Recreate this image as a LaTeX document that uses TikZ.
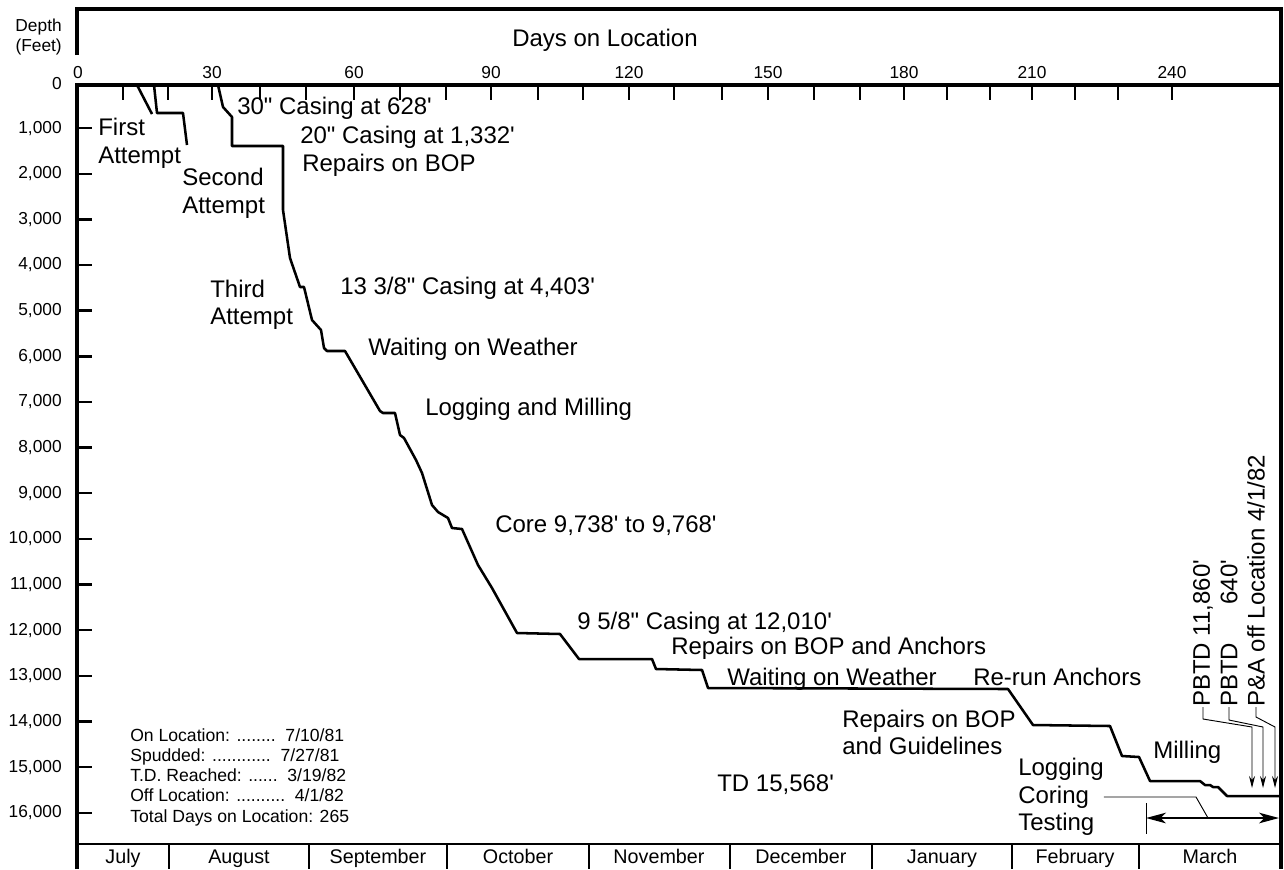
\documentclass[tikz,border=0pt]{standalone}
\usepackage{fontspec}
\setmainfont{Liberation Sans}
\usetikzlibrary{arrows.meta}
\definecolor{ink}{HTML}{000000}
\newcommand{\ftmark}{\textquotesingle}
\newcommand{\inmark}{\textquotedbl}
\tikzset{
  frameLine/.style={draw=ink, line width=3pt, line join=miter},
  tickLine/.style={draw=ink, line width=1.8pt},
  monthLine/.style={draw=ink, line width=1.4pt},
  depthCurve/.style={draw=ink, line width=1.9pt, line join=round},
  leadLine/.style={draw=ink, line width=0.7pt},
  pbtdArrow/.style={leadLine, -{Stealth[length=9pt,width=4.5pt]}},
  spanArrow/.style={draw=ink, line width=1.1pt, {Stealth[length=15pt,width=8pt,inset=4pt]}-{Stealth[length=15pt,width=8pt,inset=4pt]}},
  axisText/.style={text=ink, font=\fontsize{13}{15}\selectfont, inner sep=0pt},
  monthText/.style={text=ink, font=\fontsize{14.8}{16}\selectfont, inner sep=0pt, anchor=base},
  legendText/.style={text=ink, font=\fontsize{13.2}{15.2}\selectfont, inner sep=0pt, align=left},
  eventText/.style={text=ink, font=\fontsize{18}{20.6}\selectfont, inner sep=0pt, align=left},
  eventLine/.style={eventText, anchor=base west}
}

\begin{document}
\begin{tikzpicture}[x=0.75pt,y=-0.75pt]
  \useasboundingbox (0,0) rectangle (1284,869);

  \draw[frameLine] (77,55) -- (77,9) -- (1281,9) -- (1281,869);
  \draw[frameLine] (77,869) -- (77,85) -- (1281,85);
  \draw[monthLine] (77,844) -- (1281,844);

  \node[axisText, align=right, anchor=east] (depthTitle) at (62,37) {Depth\\(Feet)};
  \node[eventText, anchor=base] (daysTitle) at (605,46) {Days on Location};

  \foreach \tx in {123,168,212,260,306,354,400,446,491,538,583,629,674,722,768,814,860,904,947,990,1032,1075,1118,1172}
    \draw[tickLine] (\tx,86) -- (\tx,100);
  \node[axisText] (day0) at (78,73) {0};
  \foreach \tx/\d in {212/30,354/60,491/90,629/120,768/150,904/180,1032/210,1172/240}
    \node[axisText] (day\d) at (\tx,73) {\d};

  \node[axisText, anchor=east] (depth0) at (62,84) {0};
  \foreach \k in {1,...,16} {
    \draw[tickLine] (77,{82.4+45.65*\k}) -- (92,{82.4+45.65*\k});
    \node[axisText, anchor=east] (depth\k) at (62,{82.4+45.65*\k}) {\k,000};
  }

  \foreach \mx in {169,309,447,589,730,872,1012,1139}
    \draw[monthLine] (\mx,844) -- (\mx,869);
  \foreach \mx/\mn in {123/July,239/August,378/September,518/October,659/November,801/December,942/January,1075/February,1210/March}
    \node[monthText] (m\mn) at (\mx,863) {\mn};

  \draw[depthCurve] (137,85) -- (152,114);
  \draw[depthCurve] (154,85) -- (157,113) -- (183,113) -- (187,145);
  \draw[depthCurve] (218,85) -- (223,107) -- (232,117) -- (232,146) -- (283,146)
    -- (283,210) -- (290,258) -- (300,287) -- (304,287) -- (312,320) -- (321,330)
    -- (324,348) -- (327,351) -- (345,351) -- (380,411) -- (383,413) -- (395,413)
    -- (400,435) -- (404,438) -- (416,460) -- (422,473) -- (432,505) -- (438,512)
    -- (448,518) -- (452,528) -- (462,529) -- (478,565) -- (492,588) -- (517,633)
    -- (560,634) -- (579,659) -- (652,659) -- (656,669) -- (702,670) -- (708,688)
    -- (1008,689) -- (1033,725) -- (1110,726) -- (1122,756) -- (1139,757)
    -- (1150,781) -- (1200,781) -- (1205,785) -- (1210,785) -- (1213,787)
    -- (1218,787) -- (1227,796) -- (1280,796);

  \node[eventText, anchor=west] (firstTry) at (98,143.5) {First\\Attempt};
  \node[eventText, anchor=west] (secondTry) at (182,193.5) {Second\\Attempt};
  \node[eventLine] (casingThirty) at (237,114.6) {30\inmark{} Casing at 628\ftmark};
  \node[eventLine] (casingTwenty) at (300,143.6) {20\inmark{} Casing at 1,332\ftmark};
  \node[eventLine] (bopRepair) at (302,171.6) {Repairs on BOP};
  \node[eventText, anchor=west] (thirdTry) at (210,305) {Third\\Attempt};
  \node[eventLine] (casingThirteen) at (340,294) {13 3/8\inmark{} Casing at 4,403\ftmark};
  \node[eventLine] (weatherWait) at (368,355.6) {Waiting on Weather};
  \node[eventLine] (logMill) at (425,415.6) {Logging and Milling};
  \node[eventLine] (coreLabel) at (495,532.6) {Core 9,738\ftmark{} to 9,768\ftmark};
  \node[eventLine] (casingNine) at (577,629.6) {9 5/8\inmark{} Casing at 12,010\ftmark};
  \node[eventLine] (bopAnchors) at (671,654.6) {Repairs on BOP and Anchors};
  \node[eventLine] (weatherWaitB) at (727,685.6) {Waiting on Weather};
  \node[eventLine] (rerunAnchors) at (973,685.6) {Re-run Anchors};
  \node[eventText, anchor=west] (bopGuide) at (842,732.5) {Repairs on BOP\\and Guidelines};
  \node[eventLine] (tdLabel) at (717,791.6) {TD 15,568\ftmark};
  \node[eventText, anchor=west] (logCoreTest) at (1018,797) {Logging\\Coring\\Testing};
  \node[eventLine] (millLabel) at (1153,758.6) {Milling};

  \node[legendText, anchor=west] (spudNote) at (130,777) {On Location: ........~~7/10/81\\
    Spudded: ............~~7/27/81\\
    T.D. Reached: ......~~3/19/82\\
    Off Location: ..........~~4/1/82\\
    Total Days on Location: 265};

  \node[eventText, rotate=90, anchor=west] (pbtdA) at (1203,707) {PBTD 11,860\ftmark};
  \node[eventText, rotate=90, anchor=west] (pbtdB) at (1229,707) {PBTD\hphantom{ 11,}640\ftmark};
  \node[eventText, rotate=90, anchor=west] (pbtdC) at (1256,707) {P\&A off Location 4/1/82};
  \coordinate (pbA) at (1252,788);
  \coordinate (pbB) at (1263,788);
  \coordinate (pbC) at (1275,788);
  \draw[pbtdArrow] (pbtdA.west) -- ++(0,12) -- ++(49,8) -- (pbA);
  \draw[pbtdArrow] (pbtdB.west) -- ++(0,13) -- ++(34,7) -- (pbB);
  \draw[pbtdArrow] (pbtdC.west) -- ++(0,10) -- ++(19,10) -- (pbC);

  \coordinate (spanL) at (1146,818);
  \coordinate (spanR) at (1279,818);
  \coordinate (coreEnd) at (1208,818);
  \draw[leadLine] (1146,803) -- (1146,834);
  \draw[spanArrow] (spanL) -- (spanR);
  \draw[leadLine] (logCoreTest.east) -- (1196,797) -- (coreEnd);
\end{tikzpicture}
\end{document}
